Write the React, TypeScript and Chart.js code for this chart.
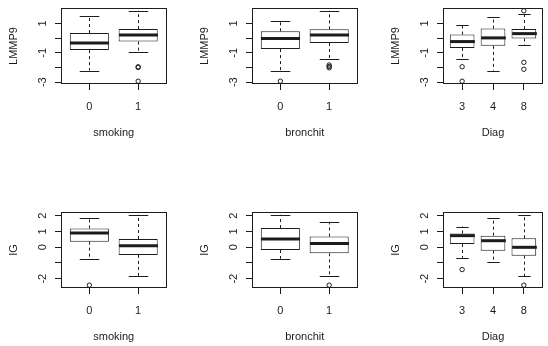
import React, { useEffect, useRef } from "react";
import { Chart, registerables } from "chart.js";
Chart.register(...registerables);

// ---------- data ----------
// five-number summaries per group: [lower whisker, Q1, median, Q3, upper whisker]
const smokingLevels = ["0", "1"];
const bronchitLevels = ["0", "1"];
const diagLevels = ["3", "4", "8"];

const lmmp9BySmoking = [
  [-2.21, -0.82, -0.33, 0.34, 1.47],
  [-0.96, -0.24, 0.21, 0.61, 1.85],
];
const lmmp9BySmokingOutliers = [[], [-2.0, -1.95, -2.93]];

const lmmp9ByBronchit = [
  [-2.21, -0.75, -0.03, 0.46, 1.13],
  [-1.41, -0.33, 0.21, 0.59, 1.85],
];
const lmmp9ByBronchitOutliers = [[-2.93], [-1.83, -1.93, -2.02]];

const lmmp9ByDiag = [
  [-1.41, -0.67, -0.24, 0.24, 0.86],
  [-2.21, -0.53, 0.01, 0.64, 1.42],
  [-0.48, -0.03, 0.3, 0.61, 1.6],
];
const lmmp9ByDiagOutliers = [[-1.95, -2.93], [], [1.85, -1.65, -2.12]];

const igBySmoking = [
  [-0.74, 0.35, 0.9, 1.19, 1.82],
  [-1.84, -0.49, 0.09, 0.52, 2.05],
];
const igBySmokingOutliers = [[-2.41], []];

const igByBronchit = [
  [-0.74, -0.18, 0.52, 1.21, 2.05],
  [-1.84, -0.39, 0.24, 0.68, 1.61],
];
const igByBronchitOutliers = [[], [-2.41]];

const igByDiag = [
  [-0.68, 0.2, 0.73, 0.87, 1.31],
  [-0.96, -0.22, 0.41, 0.73, 1.84],
  [-1.86, -0.54, -0.01, 0.56, 2.05],
];
const igByDiagOutliers = [[-1.42], [], [-2.41]];

const lmmp9TickValues = [-3, -2, -1, 0, 1];
const lmmp9TickLabels = ["-3", "", "-1", "", "1"];
const igTickValues = [-2, -1, 0, 1, 2];
const igTickLabels = ["-2", "", "0", "1", "2"];

const lmmp9Range = [-3.12, 2.04];
const igRange = [-2.59, 2.23];

// ---------- styling ----------
const INK = "#1c1c1c";
const FONT = { family: "'Liberation Sans', Arial, Helvetica, sans-serif", size: 11 };

type Panel = {
  xTitle: string;
  yTitle: string;
  levels: string[];
  stats: number[][];
  outliers: number[][];
  yTicks: number[];
  yTickLabels: string[];
  yRange: number[];
};

const panels: Panel[] = [
  { xTitle: "smoking", yTitle: "LMMP9", levels: smokingLevels, stats: lmmp9BySmoking, outliers: lmmp9BySmokingOutliers, yTicks: lmmp9TickValues, yTickLabels: lmmp9TickLabels, yRange: lmmp9Range },
  { xTitle: "bronchit", yTitle: "LMMP9", levels: bronchitLevels, stats: lmmp9ByBronchit, outliers: lmmp9ByBronchitOutliers, yTicks: lmmp9TickValues, yTickLabels: lmmp9TickLabels, yRange: lmmp9Range },
  { xTitle: "Diag", yTitle: "LMMP9", levels: diagLevels, stats: lmmp9ByDiag, outliers: lmmp9ByDiagOutliers, yTicks: lmmp9TickValues, yTickLabels: lmmp9TickLabels, yRange: lmmp9Range },
  { xTitle: "smoking", yTitle: "IG", levels: smokingLevels, stats: igBySmoking, outliers: igBySmokingOutliers, yTicks: igTickValues, yTickLabels: igTickLabels, yRange: igRange },
  { xTitle: "bronchit", yTitle: "IG", levels: bronchitLevels, stats: igByBronchit, outliers: igByBronchitOutliers, yTicks: igTickValues, yTickLabels: igTickLabels, yRange: igRange },
  { xTitle: "Diag", yTitle: "IG", levels: diagLevels, stats: igByDiag, outliers: igByDiagOutliers, yTicks: igTickValues, yTickLabels: igTickLabels, yRange: igRange },
];

const colLefts = [0, 191, 382];
const colWidths = [190, 190, 166];
const rowTops = [0, 204];
const CANVAS_H = 142;
const Y_AXIS_W = 61;
const PLOT_W = 105.5;
const PLOT_TOP = 8;
const X_AXIS_H = 58;

function makeConfig(p: Panel, width: number): any {
  const n = p.levels.length;
  const ext = 0.04 * n;
  const xMin = 0.5 - ext;
  const xMax = n + 0.5 + ext;
  const padRight = Math.max(0, width - Y_AXIS_W - PLOT_W);

  const boxPlugin = {
    id: "rBoxExtras",
    afterDatasetsDraw(chart: any) {
      const ctx = chart.ctx;
      const xs = chart.scales.x;
      const ys = chart.scales.y;
      const unit = xs.getPixelForValue(2) - xs.getPixelForValue(1);
      const half = 0.4 * unit;
      const capHalf = 0.2 * unit;
      const seg = (x1: number, y1: number, x2: number, y2: number) => {
        ctx.beginPath();
        ctx.moveTo(x1, y1);
        ctx.lineTo(x2, y2);
        ctx.stroke();
      };
      ctx.save();
      ctx.strokeStyle = INK;
      p.stats.forEach((s, i) => {
        const cx = Math.round(xs.getPixelForValue(i + 1)) + 0.5;
        const [lo, q1, med, q3, hi] = s;
        ctx.lineWidth = 1;
        ctx.setLineDash([3, 3]);
        seg(cx, ys.getPixelForValue(q3), cx, ys.getPixelForValue(hi));
        seg(cx, ys.getPixelForValue(q1), cx, ys.getPixelForValue(lo));
        ctx.setLineDash([]);
        const yHi = Math.round(ys.getPixelForValue(hi)) + 0.5;
        const yLo = Math.round(ys.getPixelForValue(lo)) + 0.5;
        seg(cx - capHalf, yHi, cx + capHalf, yHi);
        seg(cx - capHalf, yLo, cx + capHalf, yLo);
        ctx.lineWidth = 3;
        const ym = ys.getPixelForValue(med);
        seg(cx - half, ym, cx + half, ym);
      });
      const a = chart.chartArea;
      ctx.lineWidth = 1;
      ctx.strokeRect(Math.round(a.left) + 0.5, Math.round(a.top) + 0.5, Math.round(a.right - a.left) - 1, Math.round(a.bottom - a.top) - 1);
      ctx.restore();
    },
  };

  const outlierPoints: { x: number; y: number }[] = [];
  p.outliers.forEach((list, i) => list.forEach((v) => outlierPoints.push({ x: i + 1, y: v })));

  return {
    type: "bar",
    data: {
      datasets: [
        {
          type: "bar",
          data: p.stats.map((s, i) => ({ x: i + 1, y: [s[1], s[3]] })),
          backgroundColor: "#ffffff",
          borderColor: INK,
          borderWidth: 1,
          borderSkipped: false,
          inflateAmount: 0,
          barPercentage: 0.8,
          categoryPercentage: 1,
        },
        {
          type: "scatter",
          data: outlierPoints,
          pointRadius: 2.2,
          pointStyle: "circle",
          backgroundColor: "rgba(0,0,0,0)",
          borderColor: INK,
          borderWidth: 1,
          clip: false,
        },
      ],
    },
    options: {
      responsive: false,
      maintainAspectRatio: false,
      animation: false,
      events: [],
      devicePixelRatio: 1,
      layout: { padding: { left: 0, top: PLOT_TOP, right: padRight, bottom: 0 } },
      plugins: { legend: { display: false }, tooltip: { enabled: false } },
      scales: {
        x: {
          type: "linear",
          min: xMin,
          max: xMax,
          offset: false,
          afterBuildTicks: (s: any) => {
            s.ticks = p.levels.map((_, i) => ({ value: i + 1 }));
          },
          afterFit: (s: any) => {
            s.height = X_AXIS_H;
            s.paddingLeft = 0;
            s.paddingRight = 0;
          },
          ticks: {
            autoSkip: false,
            minRotation: 0,
            maxRotation: 0,
            padding: 10,
            color: INK,
            font: FONT,
            callback: (v: number) => p.levels[Math.round(v) - 1] ?? "",
          },
          grid: { display: true, drawOnChartArea: false, drawTicks: true, tickLength: 6, color: INK, lineWidth: 1, offset: false },
          border: { display: false },
          title: { display: true, text: p.xTitle, color: INK, font: FONT, padding: { top: 0, bottom: 2 } },
        },
        y: {
          type: "linear",
          min: p.yRange[0],
          max: p.yRange[1],
          afterBuildTicks: (s: any) => {
            s.ticks = p.yTicks.map((v) => ({ value: v }));
          },
          afterFit: (s: any) => {
            s.width = Y_AXIS_W;
            s.paddingTop = 0;
            s.paddingBottom = 0;
          },
          ticks: {
            autoSkip: false,
            minRotation: 90,
            maxRotation: 90,
            crossAlign: "center",
            padding: 7.5,
            color: INK,
            font: FONT,
            callback: (_v: number, i: number) => p.yTickLabels[i] ?? "",
          },
          grid: { display: true, drawOnChartArea: false, drawTicks: true, tickLength: 6, color: INK, lineWidth: 1 },
          border: { display: false },
          title: { display: true, text: p.yTitle, color: INK, font: FONT, padding: { top: 7, bottom: 0 } },
        },
      },
    },
    plugins: [boxPlugin],
  };
}

function BoxPanel({ panel, left, top, width }: { panel: Panel; left: number; top: number; width: number }) {
  const ref = useRef<HTMLCanvasElement>(null);
  useEffect(() => {
    const chart = new Chart(ref.current as HTMLCanvasElement, makeConfig(panel, width));
    return () => chart.destroy();
  }, [panel, width]);
  return (
    <canvas
      ref={ref}
      width={width}
      height={CANVAS_H}
      style={{ position: "absolute", left, top, width, height: CANVAS_H }}
    />
  );
}

export default function App() {
  return (
    <div
      style={{
        position: "fixed",
        left: 0,
        top: 0,
        width: 548,
        height: 346,
        overflow: "hidden",
        background: "#ffffff",
      }}
    >
      {panels.map((p, k) => {
        const col = k % 3;
        const row = Math.floor(k / 3);
        return <BoxPanel key={k} panel={p} left={colLefts[col]} top={rowTops[row]} width={colWidths[col]} />;
      })}
    </div>
  );
}
